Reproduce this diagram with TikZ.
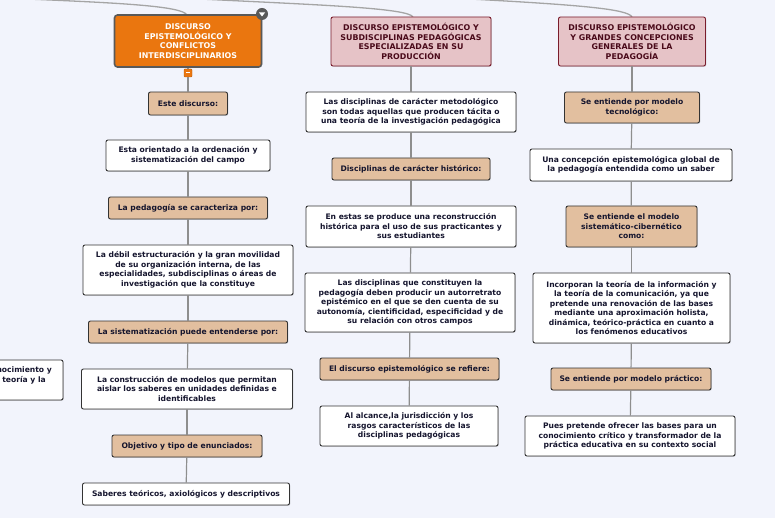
\documentclass[tikz,border=0pt]{standalone}
\usepackage{fontspec}
\setmainfont{DejaVu Sans}
\usetikzlibrary{shadows,calc}
\definecolor{bgc}{HTML}{F2F4FC}
\definecolor{tanc}{HTML}{E2BF9F}
\definecolor{pinkc}{HTML}{E6C3C7}
\definecolor{pinkb}{HTML}{7A1C2C}
\definecolor{pinkt}{HTML}{4A0A1A}
\definecolor{orc}{HTML}{EA760F}
\definecolor{txt}{HTML}{15152E}
\definecolor{linec}{HTML}{8E8E8E}
\tikzset{
  wbox/.style={draw=black!80, line width=0.9pt, rounded corners=2pt, fill=white, align=center,
    inner sep=0pt, text=txt, font=\fontsize{7.6}{9.5}\selectfont\bfseries,
    drop shadow={shadow xshift=0.8pt, shadow yshift=-0.8pt, opacity=0.3}},
  tbox/.style={wbox, fill=tanc},
  pbox/.style={wbox, fill=pinkc, draw=pinkb, text=pinkt, font=\fontsize{7.9}{9.7}\selectfont\bfseries},
  obox/.style={wbox, fill=orc, draw=black!65, line width=1.6pt, text=white, rounded corners=3pt,
    font=\fontsize{7.9}{9.7}\selectfont\bfseries},
  conn/.style={draw=linec, line width=1.2pt},
  topc/.style={draw=linec!80, line width=1.3pt},
}
\begin{document}
\begin{tikzpicture}[x=1pt,y=-1pt]
\useasboundingbox (0,0) rectangle (775,518);
\fill[bgc] (0,0) rectangle (775,518);

% curves from the root above
\draw[topc] (27,-1) .. controls (120,3) and (182,6) .. (187,15);
\draw[topc] (200,-1) .. controls (320,5) and (408,8) .. (413,17);
\draw[topc] (470,-1) .. controls (580,5) and (628,9) .. (632,17);

% partial node at the left border
\node[wbox, minimum width=90pt, minimum height=40pt] (px) at (18,380) {};
\node[text=txt, font=\fontsize{7.6}{9.5}\selectfont\bfseries, anchor=east, inner sep=0pt] (pt1) at (52,370) {conocimiento y};
\node[text=txt, font=\fontsize{7.6}{9.5}\selectfont\bfseries, anchor=east, inner sep=0pt] (pt2) at (46,380) {la teoría y la};

% ---------- left column ----------
\node[obox, minimum width=147pt, minimum height=52pt] (m1) at (188,41) {DISCURSO\\ EPISTEMOLÓGICO Y\\ CONFLICTOS\\ INTERDISCIPLINARIOS};
\node[circle, fill=black!65, minimum size=12pt, inner sep=0pt] (tog) at (262,14) {};
\fill[white] ($(tog)+(-3,-1.5)$) -- ($(tog)+(3,-1.5)$) -- ($(tog)+(0,2.5)$) -- cycle;
\node[fill=orc, draw=orc!80!black, line width=0.4pt, minimum size=8pt, inner sep=0pt, rounded corners=1pt] (mn) at (188,73) {};
\draw[white, line width=1pt] ($(mn)+(-2,0)$) -- ($(mn)+(2,0)$);

\node[tbox, minimum width=79pt, minimum height=23pt] (l1) at (188,103.5) {Este discurso:};
\node[wbox, minimum width=164pt, minimum height=31pt] (l2) at (188,155.5) {Esta orientado a la ordenación y\\ sistematización del campo};
\node[tbox, minimum width=159pt, minimum height=22pt] (l3) at (188,208) {La pedagogía se caracteriza por:};
\node[wbox, minimum width=210pt, minimum height=50pt] (l4) at (188,270) {La débil estructuración y la gran movilidad\\ de su organización interna, de las\\ especialidades, subdisciplinas o áreas de\\ investigación que la constituye};
\node[tbox, minimum width=199pt, minimum height=22pt] (l5) at (188,332) {La sistematización puede entenderse por:};
\node[wbox, minimum width=211pt, minimum height=40pt] (l6) at (187,389) {La construcción de modelos que permitan\\ aislar los saberes en unidades definidas e\\ identificables};
\node[tbox, minimum width=150pt, minimum height=22pt] (l7) at (187,446) {Objetivo y tipo de enunciados:};
\node[wbox, minimum width=207pt, minimum height=22pt] (l8) at (186,494) {Saberes teóricos, axiológicos y descriptivos};

\draw[conn] (m1) -- (mn);
\draw[conn] (mn) -- (l1);
\draw[conn] (l1) -- (l2);
\draw[conn] (l2) -- (l3);
\draw[conn] (l3) -- (l4);
\draw[conn] (l4) -- (l5);
\draw[conn] (l5) -- (l6);
\draw[conn] (l6) -- (l7);
\draw[conn] (l7) -- (l8);

% ---------- middle column ----------
\node[pbox, minimum width=160pt, minimum height=49pt] (m2) at (411,41.5) {DISCURSO EPISTEMOLÓGICO Y\\ SUBDISCIPLINAS PEDAGÓGICAS\\ ESPECIALIZADAS EN SU\\ PRODUCCIÓN};
\node[wbox, minimum width=210pt, minimum height=40pt] (c1) at (411,112) {Las disciplinas de carácter metodológico\\ son todas aquellas que producen tácita o\\ una teoría de la investigación pedagógica};
\node[tbox, minimum width=158pt, minimum height=22pt] (c2) at (411,169) {Disciplinas de carácter histórico:};
\node[wbox, minimum width=210pt, minimum height=41pt] (c3) at (411,226.5) {En estas se produce una reconstrucción\\ histórica para el uso de sus practicantes y\\ sus estudiantes};
\node[wbox, minimum width=210pt, minimum height=59pt] (c4) at (410,302.5) {Las disciplinas que constituyen la\\ pedagogía deben producir un autorretrato\\ epistémico en el que se den cuenta de su\\ autonomía, cientificidad, especificidad y de\\ su relación con otros campos};
\node[tbox, minimum width=179pt, minimum height=22pt] (c5) at (409.5,369) {El discurso epistemológico se refiere:};
\node[wbox, minimum width=178pt, minimum height=40pt] (c6) at (409,426) {Al alcance,la jurisdicción y los\\ rasgos característicos de las\\ disciplinas pedagógicas};

\draw[conn] (m2) -- (c1);
\draw[conn] (c1) -- (c2);
\draw[conn] (c2) -- (c3);
\draw[conn] (c3) -- (c4);
\draw[conn] (c4) -- (c5);
\draw[conn] (c5) -- (c6);

% ---------- right column ----------
\node[pbox, minimum width=147pt, minimum height=49pt] (m3) at (632,41.5) {DISCURSO EPISTEMOLÓGICO\\ Y GRANDES CONCEPCIONES\\ GENERALES DE LA\\ PEDAGOGÍA};
\node[tbox, minimum width=135pt, minimum height=31pt] (r1) at (632,107.5) {Se entiende por modelo\\ tecnológico:};
\node[wbox, minimum width=202pt, minimum height=32pt] (r2) at (631,165) {Una concepción epistemológica global de\\ la pedagogía entendida como un saber};
\node[tbox, minimum width=131pt, minimum height=41pt] (r3) at (631.5,226.5) {Se entiende el modelo\\ sistemático-cibernético\\ como:};
\node[wbox, minimum width=197pt, minimum height=70pt] (r4) at (631.5,308) {Incorporan la teoría de la información y\\ la teoría de la comunicación, ya que\\ pretende una renovación de las bases\\ mediante una aproximación holista,\\ dinámica, teórico-práctica en cuanto a\\ los fenómenos educativos};
\node[tbox, minimum width=160pt, minimum height=22pt] (r5) at (631,379) {Se entiende por modelo práctico:};
\node[wbox, minimum width=210pt, minimum height=40pt] (r6) at (630,436) {Pues pretende ofrecer las bases para un\\ conocimiento crítico y transformador de la\\ práctica educativa en su contexto social};

\draw[conn] (m3) -- (r1);
\draw[conn] (r1) -- (r2);
\draw[conn] (r2) -- (r3);
\draw[conn] (r3) -- (r4);
\draw[conn] (r4) -- (r5);
\draw[conn] (r5) -- (r6);
\end{tikzpicture}
\end{document}
